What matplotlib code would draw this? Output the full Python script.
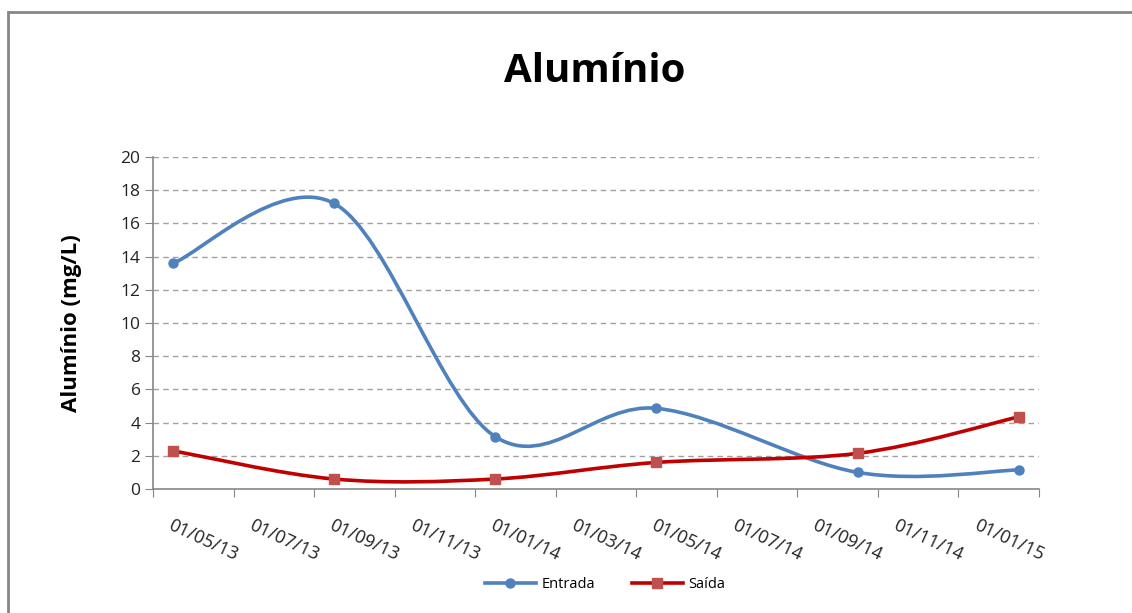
import numpy as np
import matplotlib
matplotlib.use("Agg")
import matplotlib.pyplot as plt
from matplotlib.path import Path
from matplotlib.patches import PathPatch, Rectangle
from matplotlib.lines import Line2D

plt.rcParams['font.family'] = ['Open Sans', 'DejaVu Sans']

# data (sample month, Excel date axis with monthly base unit)
dates = ["2013-05", "2013-09", "2014-01", "2014-05", "2014-10", "2015-02"]
entrada = [13.6, 17.2, 3.15, 4.86, 1.0, 1.15]
saida = [2.3, 0.6, 0.6, 1.6, 2.15, 4.35]

tick_labels = ["01/05/13", "01/07/13", "01/09/13", "01/11/13", "01/01/14", "01/03/14",
               "01/05/14", "01/07/14", "01/09/14", "01/11/14", "01/01/15"]


def month_index(s):
    y, m = s.split("-")
    return (int(y) - 2013) * 12 + int(m) - 5


def smooth_path(xs, ys):
    # Excel-style smoothed line (cubic bezier, catmull-rom control points)
    pts = np.column_stack([xs, ys]).astype(float)
    n = len(pts)
    verts = [pts[0]]
    codes = [Path.MOVETO]
    for i in range(n - 1):
        p0 = pts[i - 1] if i > 0 else pts[i]
        p1 = pts[i]
        p2 = pts[i + 1]
        p3 = pts[i + 2] if i + 2 < n else pts[i + 1]
        verts += [p1 + (p2 - p0) / 6, p2 - (p3 - p1) / 6, p2]
        codes += [Path.CURVE4] * 3
    return Path(verts, codes)


x = [month_index(d) for d in dates]
n_months = month_index("2015-02") + 1

blue = "#4F81BD"
red = "#C00000"
red_marker = "#C0504D"
gray = "#868686"

fig = plt.figure(figsize=(11.32, 6.13), dpi=100)
ax = fig.add_axes([153 / 1132, 1 - 489 / 613, 886 / 1132, 332 / 613])

ax.add_patch(PathPatch(smooth_path(x, entrada), facecolor="none", edgecolor=blue, lw=2.6, zorder=3))
ax.add_patch(PathPatch(smooth_path(x, saida), facecolor="none", edgecolor=red, lw=2.6, zorder=3))
ax.plot(x, entrada, "o", color=blue, ms=6.5, zorder=4)
ax.plot(x, saida, "s", color=red_marker, ms=6.5, zorder=4)

ax.set_xlim(-0.5, n_months - 0.5)
ax.set_ylim(0, 20)
ax.set_yticks(np.arange(0, 21, 2))
ax.set_xticks(np.arange(-0.5, n_months, 2))
ax.set_xticklabels([])
ax.set_xticks(np.arange(0, n_months - 1, 2), minor=True)
ax.set_xticklabels(tick_labels, minor=True, rotation=-25, ha="left", va="top",
                   rotation_mode="anchor", fontsize=13, color="#222222")
ax.tick_params(axis="x", which="minor", length=0, pad=20)
ax.tick_params(axis="x", which="major", length=6, color=gray, direction="out")
ax.tick_params(axis="y", length=6, color=gray, labelsize=12.5, labelcolor="#222222", pad=3)

for v in np.arange(2, 21, 2):
    ax.axhline(v, color="#A0A0A0", lw=1, ls=(0, (4, 3)), zorder=1)

for s in ["top", "right"]:
    ax.spines[s].set_visible(False)
for s in ["left", "bottom"]:
    ax.spines[s].set_color(gray)
    ax.spines[s].set_linewidth(1.2)

ax.set_ylabel("Alumínio (mg/L)", fontsize=16, fontweight="bold", labelpad=28)

fig.text(595 / 1132, 1 - 72 / 613, "Alumínio", fontsize=29, fontweight="bold",
         ha="center", va="center")

handles = [
    Line2D([], [], color=blue, lw=2.6, marker="o", ms=6.5),
    Line2D([], [], color=red, lw=2.6, marker="s", ms=6.5, mfc=red_marker, mec=red_marker),
]
fig.legend(handles, ["Entrada", "Saída"], loc="center", ncol=2,
           bbox_to_anchor=(605 / 1132, 1 - 585 / 613), frameon=False,
           fontsize=10.5, handlelength=3.5, columnspacing=2.5, handletextpad=0.4)

fig.add_artist(Rectangle((8 / 1132, -0.1), 1.2, 1.1 - 12 / 613, transform=fig.transFigure,
                         fill=False, edgecolor=gray, lw=2))

fig.savefig("out.png", dpi=100)
